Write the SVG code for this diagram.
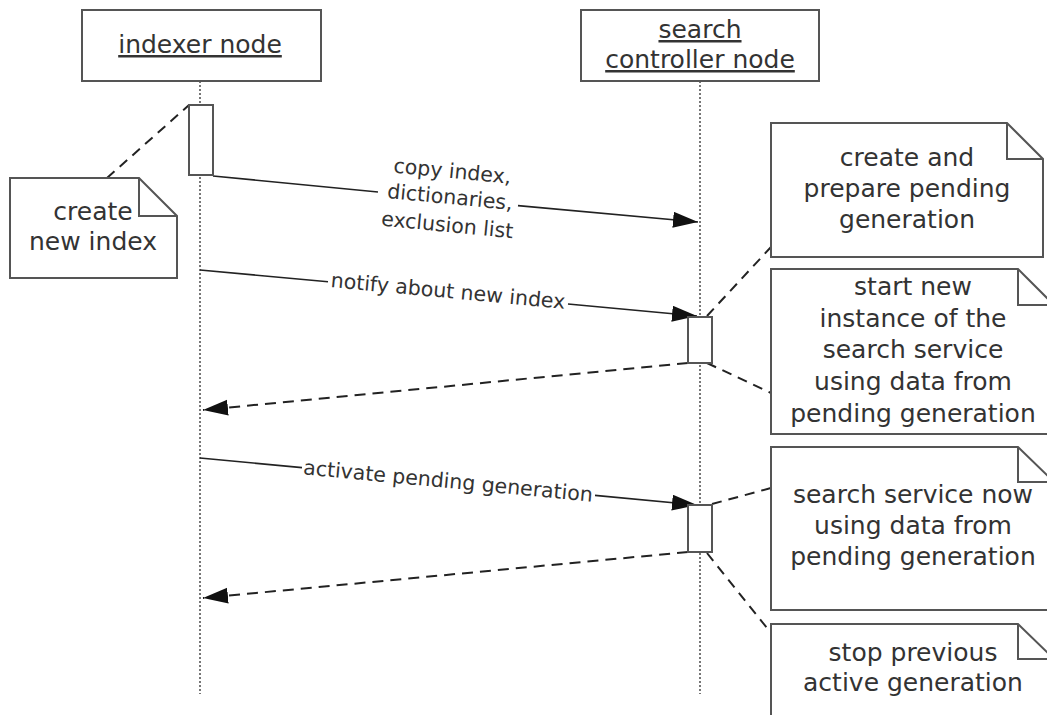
<svg xmlns="http://www.w3.org/2000/svg" width="1047" height="715" viewBox="0 0 1047 715">
<defs>
<marker id="arr" markerUnits="userSpaceOnUse" markerWidth="26" markerHeight="18" refX="25" refY="8" orient="auto">
<path d="M0,0 L25,8 L0,16 Z" fill="#111"/>
</marker>
<style>
.box{fill:#fff;stroke:#555;stroke-width:2}
.note{fill:#fff;stroke:#555;stroke-width:2;stroke-linejoin:miter}
.fold{fill:none;stroke:#555;stroke-width:2}
.life{stroke:#555;stroke-width:1.6;stroke-dasharray:2 2;fill:none}
.act{fill:#fff;stroke:#555;stroke-width:2}
.msg{stroke:#222;stroke-width:1.6;fill:none}
.ret{stroke:#222;stroke-width:2;fill:none;stroke-dasharray:11 7}
.anc{stroke:#222;stroke-width:2;fill:none;stroke-dasharray:10 7}
.t{font-family:"DejaVu Sans","Verdana",sans-serif;fill:#333;text-anchor:middle}
.big{font-size:25px}
.lbl{font-size:20.5px}
.u{text-decoration:underline}
</style>
</defs>
<rect width="1047" height="715" fill="#fff"/>

<g id="lifelines">
<line class="life" x1="200" y1="81" x2="200" y2="694"/>
<line class="life" x1="700" y1="81" x2="700" y2="694"/>
</g>

<g id="indexer-node">
<rect class="box" x="82" y="10" width="239" height="71"/>
<text class="t big u" x="200" y="53">indexer node</text>
</g>
<g id="search-controller-node">
<rect class="box" x="581" y="10" width="238" height="71"/>
<text class="t big u" x="700" y="38">search</text>
<text class="t big u" x="700" y="68">controller node</text>
</g>

<g id="connectors">
<path class="anc" d="M107,178 L189,105"/>
<path class="anc" d="M707,316 L771,247"/>
<path class="anc" d="M707,363 L771,393"/>
<path class="anc" d="M712,504 L771,488"/>
<path class="anc" d="M707,553 L771,633"/>
<path class="msg" d="M213,176 L378,192 M518,205.6 L698,222" marker-end="url(#arr)"/>
<path class="msg" d="M200,270 L328,281.8 M568,304 L697,316" marker-end="url(#arr)"/>
<path class="msg" d="M200,458 L302,467.6 M595,495.4 L697,505" marker-end="url(#arr)"/>
<path class="ret" d="M688,363 L203,410" marker-end="url(#arr)"/>
<path class="ret" d="M688,552 L203,598" marker-end="url(#arr)"/>
<g transform="rotate(5.5 450 197)">
<text class="t lbl" x="450" y="178">copy index,</text>
<text class="t lbl" x="450" y="204">dictionaries,</text>
<text class="t lbl" x="450" y="232">exclusion list</text>
</g>
<text class="t lbl" x="448" y="298" transform="rotate(5.3 448 292)">notify about new index</text>
<text class="t lbl" x="448" y="488" transform="rotate(5.4 448 482)">activate pending generation</text>
</g>

<g id="activation-indexer">
<rect class="act" x="189" y="105" width="24" height="70"/>
</g>
<g id="activation-search-1">
<rect class="act" x="688" y="317" width="24" height="46"/>
</g>
<g id="activation-search-2">
<rect class="act" x="688" y="505" width="24" height="47"/>
</g>

<g id="note-create-new-index">
<path class="note" d="M10,178 H139 L177,216 V278 H10 Z"/>
<path class="fold" d="M139,178 V216 H177"/>
<text class="t big" x="93" y="220">create</text>
<text class="t big" x="93" y="250">new index</text>
</g>

<g id="note-create-prepare">
<path class="note" d="M771,123 H1007 L1043,159 V257 H771 Z"/>
<path class="fold" d="M1007,123 V159 H1043"/>
<text class="t big" x="907" y="166">create and</text>
<text class="t big" x="907" y="197">prepare pending</text>
<text class="t big" x="907" y="228">generation</text>
</g>

<g id="note-start-new-instance">
<path class="note" d="M771,269 H1018 L1054,305 V434 H771 Z"/>
<path class="fold" d="M1018,269 V305 H1054"/>
<text class="t big" x="913" y="295">start new</text>
<text class="t big" x="913" y="327">instance of the</text>
<text class="t big" x="913" y="358">search service</text>
<text class="t big" x="913" y="390">using data from</text>
<text class="t big" x="913" y="422">pending generation</text>
</g>

<g id="note-search-service-now">
<path class="note" d="M771,447 H1018 L1054,482 V610 H771 Z"/>
<path class="fold" d="M1018,447 V482 H1054"/>
<text class="t big" x="913" y="503">search service now</text>
<text class="t big" x="913" y="534">using data from</text>
<text class="t big" x="913" y="565">pending generation</text>
</g>

<g id="note-stop-previous">
<path class="note" d="M771,624 H1018 L1054,659 V740 H771 Z"/>
<path class="fold" d="M1018,624 V659 H1054"/>
<text class="t big" x="913" y="661">stop previous</text>
<text class="t big" x="913" y="691">active generation</text>
</g>
</svg>
